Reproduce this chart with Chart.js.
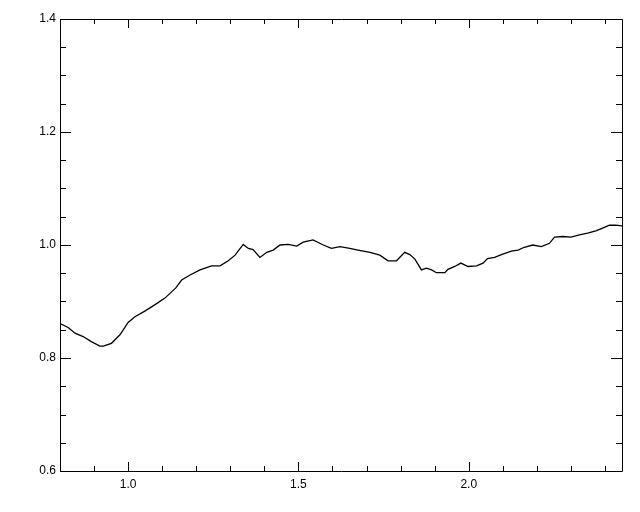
<!DOCTYPE html>
<html>
<head>
<meta charset="utf-8">
<script src="https://cdn.jsdelivr.net/npm/chart.js@4"></script>
<style>
  html, body { margin: 0; padding: 0; background: #ffffff; }
  #wrap { width: 640px; height: 512px; }
</style>
</head>
<body>
<div id="wrap"><canvas id="c" width="640" height="512"></canvas></div>
<script>
// ---- data ----
const xValues = [0.800, 0.824, 0.844, 0.868, 0.892, 0.917, 0.927, 0.951, 0.976, 1.000,
  1.020, 1.049, 1.078, 1.108, 1.140, 1.157, 1.182, 1.211, 1.245, 1.270,
  1.294, 1.314, 1.338, 1.353, 1.367, 1.387, 1.407, 1.426, 1.446, 1.470,
  1.495, 1.514, 1.543, 1.573, 1.597, 1.622, 1.651, 1.675, 1.710, 1.739,
  1.763, 1.788, 1.812, 1.827, 1.842, 1.861, 1.876, 1.891, 1.905, 1.930,
  1.939, 1.959, 1.977, 1.998, 2.023, 2.042, 2.055, 2.076, 2.096, 2.125,
  2.145, 2.163, 2.188, 2.213, 2.237, 2.252, 2.276, 2.300, 2.325, 2.349,
  2.373, 2.393, 2.413, 2.432, 2.450];
const yValues = [0.861, 0.854, 0.844, 0.838, 0.829, 0.821, 0.821, 0.826, 0.841, 0.863,
  0.873, 0.883, 0.894, 0.906, 0.924, 0.938, 0.947, 0.956, 0.963, 0.963,
  0.972, 0.982, 1.001, 0.994, 0.992, 0.978, 0.987, 0.991, 1.000, 1.001,
  0.998, 1.005, 1.009, 1.000, 0.994, 0.997, 0.994, 0.991, 0.987, 0.982,
  0.972, 0.972, 0.987, 0.983, 0.975, 0.956, 0.959, 0.956, 0.951, 0.951,
  0.957, 0.962, 0.968, 0.962, 0.963, 0.968, 0.976, 0.978, 0.983, 0.989,
  0.991, 0.996, 1.000, 0.997, 1.003, 1.014, 1.015, 1.014, 1.018, 1.021,
  1.025, 1.030, 1.035, 1.035, 1.034];
const xTickLabels = [1.0, 1.5, 2.0];
const yTickLabels = [0.6, 0.8, 1.0, 1.2, 1.4];
const xMinorStep = 0.1;
const yMinorStep = 0.05;
const xRange = [0.8, 2.45];
const yRange = [0.6, 1.4];

const points = xValues.map((x, i) => ({ x: x, y: yValues[i] }));

// plugin: box frame and inward ticks on all four sides
const frameTicks = {
  id: 'frameTicks',
  afterDraw(chart) {
    const { ctx, chartArea: a, scales } = chart;
    const xs = scales.x, ys = scales.y;
    ctx.save();
    ctx.strokeStyle = '#000';
    ctx.lineWidth = 1;
    ctx.beginPath();
    ctx.rect(Math.round(a.left) + 0.5, Math.round(a.top) + 0.5,
             Math.round(a.right - a.left), Math.round(a.bottom - a.top));
    ctx.stroke();
    const near = (v, arr) => arr.some(t => Math.abs(t - v) < 1e-6);
    ctx.beginPath();
    // x ticks
    for (let k = Math.ceil(xRange[0] / xMinorStep - 1e-6); k * xMinorStep <= xRange[1] + 1e-6; k++) {
      const v = +(k * xMinorStep).toFixed(4);
      const px = Math.round(xs.getPixelForValue(v)) + 0.5;
      const len = near(v, xTickLabels) ? 9 : 5;
      ctx.moveTo(px, a.bottom); ctx.lineTo(px, a.bottom - len);
      ctx.moveTo(px, a.top); ctx.lineTo(px, a.top + len);
    }
    // y ticks
    for (let k = Math.ceil(yRange[0] / yMinorStep - 1e-6); k * yMinorStep <= yRange[1] + 1e-6; k++) {
      const v = +(k * yMinorStep).toFixed(4);
      const py = Math.round(ys.getPixelForValue(v)) + 0.5;
      const len = near(v, yTickLabels) ? 11 : 6;
      ctx.moveTo(a.left, py); ctx.lineTo(a.left + len, py);
      ctx.moveTo(a.right, py); ctx.lineTo(a.right - len, py);
    }
    ctx.stroke();
    ctx.restore();
  }
};

new Chart(document.getElementById('c'), {
  type: 'line',
  data: {
    datasets: [{
      data: points,
      borderColor: '#000',
      borderWidth: 1.3,
      pointRadius: 0,
      tension: 0,
      fill: false
    }]
  },
  options: {
    responsive: false,
    animation: false,
    devicePixelRatio: 1,
    layout: { padding: { top: 19, right: 18, left: 0, bottom: 0 } },
    plugins: { legend: { display: false }, tooltip: { enabled: false } },
    scales: {
      x: {
        type: 'linear',
        min: xRange[0], max: xRange[1],
        grid: { display: false, drawTicks: false },
        border: { display: false },
        afterBuildTicks: s => { s.ticks = xTickLabels.map(v => ({ value: v })); },
        afterFit: s => { s.height = 41; },
        ticks: {
          color: '#000',
          font: { family: 'Liberation Sans', size: 12 },
          padding: 6,
          maxRotation: 0,
          autoSkip: false,
          callback: v => Number(v).toFixed(1)
        }
      },
      y: {
        type: 'linear',
        min: yRange[0], max: yRange[1],
        grid: { display: false, drawTicks: false },
        border: { display: false },
        afterBuildTicks: s => { s.ticks = yTickLabels.map(v => ({ value: v })); },
        afterFit: s => { s.width = 60; },
        ticks: {
          color: '#000',
          font: { family: 'Liberation Sans', size: 12 },
          padding: 4,
          autoSkip: false,
          callback: v => Number(v).toFixed(1)
        }
      }
    }
  },
  plugins: [frameTicks]
});
</script>
</body>
</html>
